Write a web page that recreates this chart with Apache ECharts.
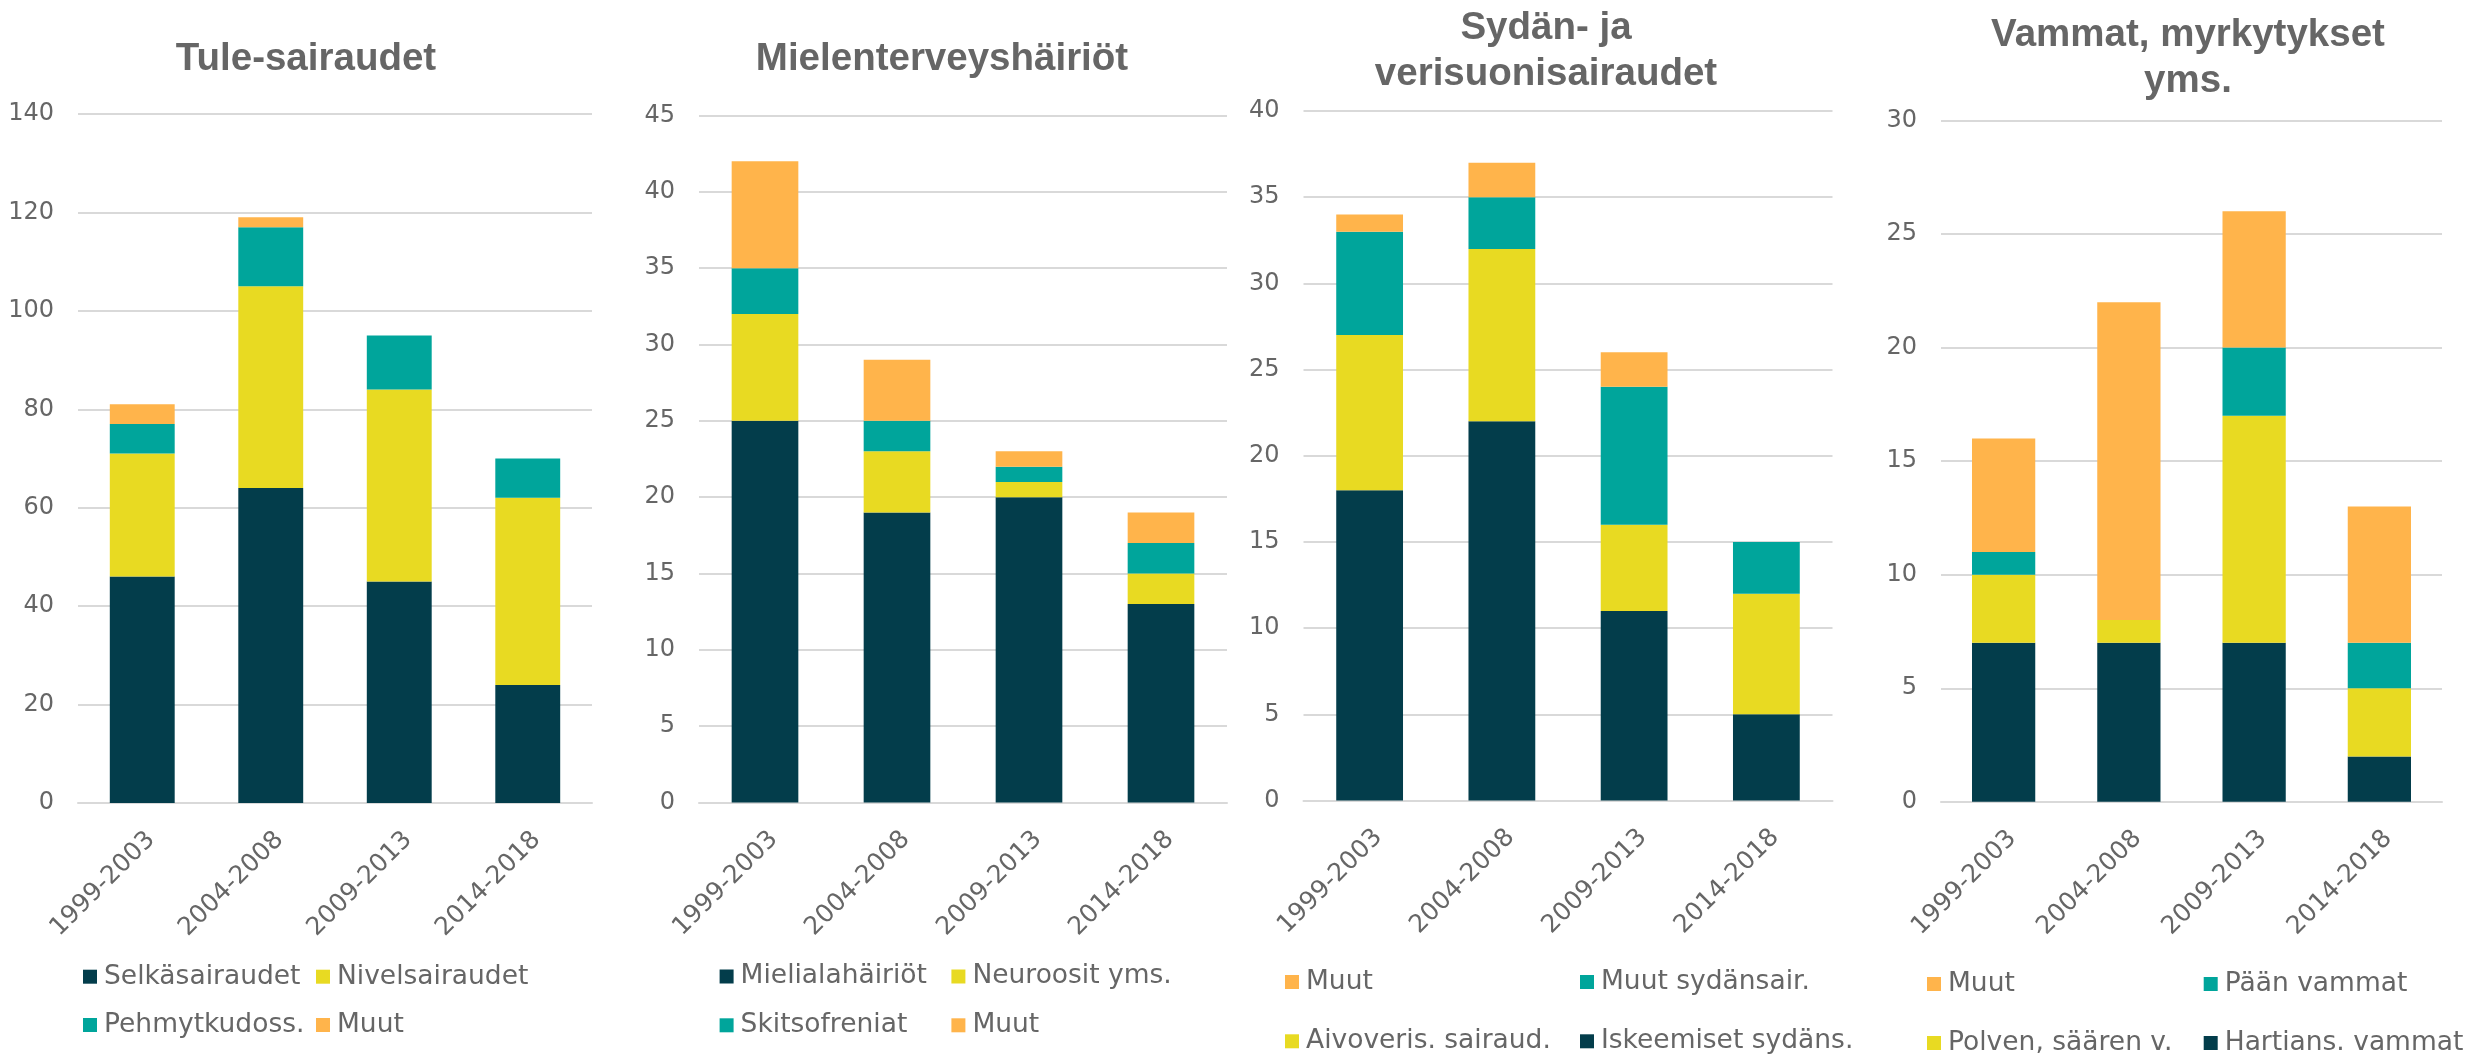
<!DOCTYPE html>
<html>
<head>
<meta charset="utf-8">
<title>Sairausryhmät</title>
<script src="https://cdn.jsdelivr.net/npm/echarts@6/dist/echarts.min.js"></script>
<style>
    html, body { margin: 0; padding: 0; background: #fff; }
    #main { width: 2471px; height: 1055px; }
</style>
</head>
<body>
<div id="main"></div>
<script>
// kaudet (x-akseli)
let periods = ['1999-2003', '2004-2008', '2009-2013', '2014-2018'];

// Tule-sairaudet
let tuleSelka = [46, 64, 45, 24];
let tuleNivel = [25, 41, 39, 38];
let tulePehmyt = [6, 12, 11, 8];
let tuleMuut = [4, 2, 0, 0];

// Mielenterveyshäiriöt
let mieliMieliala = [25, 19, 20, 13];
let mieliNeuroosit = [7, 4, 1, 2];
let mieliSkitso = [3, 2, 1, 2];
let mieliMuut = [7, 4, 1, 2];

// Sydän- ja verisuonisairaudet
let sydanIskeemiset = [18, 22, 11, 5];
let sydanAivoveris = [9, 10, 5, 7];
let sydanMuutSydan = [6, 3, 8, 3];
let sydanMuut = [1, 2, 2, 0];

// Vammat, myrkytykset yms.
let vammatHartia = [7, 7, 7, 2];
let vammatPolvi = [3, 1, 10, 3];
let vammatPaa = [1, 0, 3, 2];
let vammatMuut = [5, 14, 6, 6];

// y-akselien asteikot
let yMax = [140, 45, 40, 30];
let yStep = [20, 5, 5, 5];

let COLORS = {
    dark: '#033d4b',
    yellow: '#e8da22',
    teal: '#00a59b',
    orange: '#ffb44b'
};
let TEXT = '#666666';
let FONT = 'DejaVu Sans, Verdana, sans-serif';
let TITLE_FONT = 'Liberation Sans, Arial, sans-serif';

// kuvaajien paikat (px)
let grids = [
    { left: 78, top: 114, width: 514, height: 689 },
    { left: 699, top: 115.5, width: 528, height: 687 },
    { left: 1303.5, top: 111, width: 529, height: 689.5 },
    { left: 1941, top: 120.5, width: 501, height: 681.3 }
];

let myChart = echarts.init(document.getElementById('main'));

function bar(name, data, color, idx) {
    return {
        name: name,
        type: 'bar',
        stack: 'k' + idx,
        data: data,
        barWidth: '50.5%',
        xAxisIndex: idx,
        yAxisIndex: idx,
        itemStyle: { color: color },
        emphasis: { disabled: true }
    };
}

// yksi legendan sarake (2 riviä)
function legendCol(left, top, gap, names) {
    return {
        orient: 'vertical',
        left: left,
        top: top,
        height: 150,            // ettei sarake rivity
        padding: 0,
        itemGap: gap,
        itemWidth: 14,
        itemHeight: 14,
        icon: 'rect',
        selectedMode: false,
        data: names,
        textStyle: {
            fontSize: 26.5,
            color: TEXT,
            fontFamily: FONT,
            lineHeight: 30,
            padding: [0, 0, 0, 2]
        }
    };
}

function titleAt(text, x, top) {
    return {
        text: text,
        left: x,
        top: top,
        textAlign: 'center',
        padding: 0,
        textStyle: {
            fontSize: 38.5,
            fontWeight: 'bold',
            color: TEXT,
            fontFamily: TITLE_FONT,
            lineHeight: 46
        }
    };
}

let option = {
    animation: false,
    backgroundColor: '#fff',
    title: [
        titleAt('Tule-sairaudet', 306, 36),
        titleAt('Mielenterveyshäiriöt', 942, 36),
        titleAt('Sydän- ja\nverisuonisairaudet', 1546, 5),
        titleAt('Vammat, myrkytykset\nyms.', 2188, 12)
    ],
    legend: [
        legendCol(83, 961.7, 18.3, ['Selkäsairaudet', 'Pehmytkudoss.']),
        legendCol(316, 961.7, 18.3, ['Nivelsairaudet', 'Muut']),
        legendCol(719.6, 961.5, 18.8, ['Mielialahäiriöt', 'Skitsofreniat']),
        legendCol(951.4, 961.5, 18.8, ['Neuroosit yms.', 'Muut']),
        legendCol(1285, 967, 29.3, ['Muut', 'Aivoveris. sairaud.']),
        legendCol(1580, 967, 29.3, ['Muut sydänsair.', 'Iskeemiset sydäns.']),
        legendCol(1927, 969, 29, ['Muut', 'Polven, säären v.']),
        legendCol(2203.7, 969, 29, ['Pään vammat', 'Hartians. vammat'])
    ],
    grid: grids.map(g => Object.assign({ outerBoundsMode: 'none' }, g)),
    xAxis: grids.map((g, i) => ({
        type: 'category',
        gridIndex: i,
        data: periods,
        axisLine: { lineStyle: { color: '#d9d9d9', width: 2 } },
        axisTick: { show: false },
        axisLabel: {
            interval: 0,
            rotate: 45,
            margin: 24,
            verticalAlign: 'top',
            fontSize: 25,
            color: TEXT,
            fontFamily: FONT
        }
    })),
    yAxis: grids.map((g, i) => ({
        type: 'value',
        gridIndex: i,
        min: 0,
        max: yMax[i],
        interval: yStep[i],
        axisLine: { show: false },
        axisTick: { show: false },
        splitLine: { lineStyle: { color: '#d9d9d9', width: 2 } },
        axisLabel: {
            margin: 24,
            fontSize: 24,
            color: TEXT,
            fontFamily: FONT
        }
    })),
    series: [
        bar('Selkäsairaudet', tuleSelka, COLORS.dark, 0),
        bar('Nivelsairaudet', tuleNivel, COLORS.yellow, 0),
        bar('Pehmytkudoss.', tulePehmyt, COLORS.teal, 0),
        bar('Muut', tuleMuut, COLORS.orange, 0),

        bar('Mielialahäiriöt', mieliMieliala, COLORS.dark, 1),
        bar('Neuroosit yms.', mieliNeuroosit, COLORS.yellow, 1),
        bar('Skitsofreniat', mieliSkitso, COLORS.teal, 1),
        bar('Muut', mieliMuut, COLORS.orange, 1),

        bar('Iskeemiset sydäns.', sydanIskeemiset, COLORS.dark, 2),
        bar('Aivoveris. sairaud.', sydanAivoveris, COLORS.yellow, 2),
        bar('Muut sydänsair.', sydanMuutSydan, COLORS.teal, 2),
        bar('Muut', sydanMuut, COLORS.orange, 2),

        bar('Hartians. vammat', vammatHartia, COLORS.dark, 3),
        bar('Polven, säären v.', vammatPolvi, COLORS.yellow, 3),
        bar('Pään vammat', vammatPaa, COLORS.teal, 3),
        bar('Muut', vammatMuut, COLORS.orange, 3)
    ]
};

myChart.setOption(option);
</script>
</body>
</html>
